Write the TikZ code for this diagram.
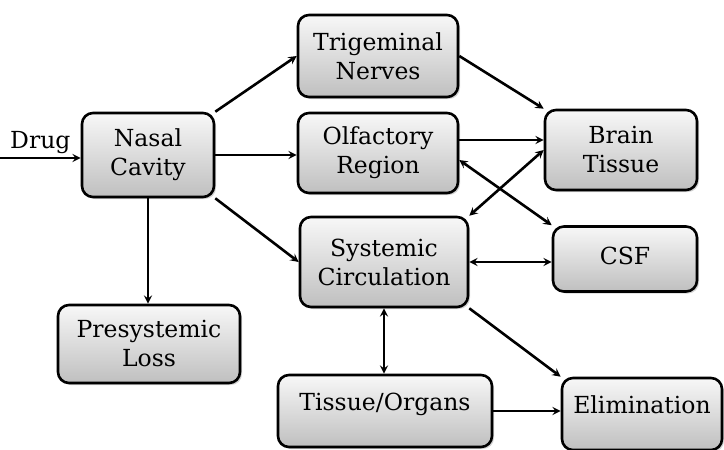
\documentclass[tikz,border=0pt]{standalone}
\usepackage{fontspec}
\setmainfont{DejaVu Serif}
\usetikzlibrary{shapes,arrows,positioning,shadows}

\begin{document}
\begin{tikzpicture}[
    x=1pt, y=-1pt,
    box/.style={rectangle, draw=black, line width=2.6pt, rounded corners=11pt, top color=gray!6, bottom color=gray!50, drop shadow={shadow xshift=2pt, shadow yshift=-2pt, opacity=0.35}, align=center, font=\fontsize{23.5}{29}\selectfont, inner sep=2pt},
    toptext/.style={text depth=18pt},
    arrow/.style={->,>=stealth,line width=2.6pt},
    both/.style={<->,>=stealth,line width=2.6pt}
]
\useasboundingbox (0,0) rectangle (724,450);

% Entry and first split
\node[box, minimum width=132pt, minimum height=84pt] (nasal) at (148,155) {Nasal\\Cavity};
\node[box, minimum width=182pt, minimum height=78pt] (pres) at (149,344) {Presystemic\\Loss};

% Routes
\node[box, minimum width=160pt, minimum height=82pt] (trig) at (378,56) {Trigeminal\\Nerves};
\node[box, minimum width=160pt, minimum height=80pt] (olf) at (378,153) {Olfactory\\Region};
\node[box, minimum width=168pt, minimum height=90pt] (sys) at (384,262) {Systemic\\Circulation};
\node[box, toptext, minimum width=214pt, minimum height=72pt] (tissue) at (385,411) {Tissue/Organs};

% Targets
\node[box, minimum width=152pt, minimum height=80pt] (brain) at (621,150) {Brain\\Tissue};
\node[box, text depth=6pt, minimum width=144pt, minimum height=65pt] (csf) at (625,259) {CSF};
\node[box, toptext, minimum width=160pt, minimum height=72pt] (elim) at (642,414) {Elimination};

% Drug input
\coordinate (drug) at (0,158);
\draw[arrow] (drug) -- (drug -| nasal.west) node[midway, above, font=\fontsize{23.5}{29}\selectfont] {Drug};

% Connections
\draw[arrow] (nasal.north east) -- (trig.west);
\draw[arrow] (nasal.east) -- (nasal.east -| olf.west);
\draw[arrow] (nasal.south east) -- (sys.west);
\draw[arrow] (nasal.south) -- (pres.north -| nasal.south);
\draw[arrow] (trig.east) -- (brain.north west);
\draw[arrow] ([yshift=13pt]olf.east) -- ([yshift=13pt]olf.east -| brain.west);
\draw[both] (sys.north east) -- (brain.west);
\draw[both] ([yshift=-7pt]olf.east) -- (csf.north west);
\draw[both] (sys.east) -- (sys.east -| csf.west);
\draw[both] (sys.south) -- (sys.south |- tissue.north);
\draw[arrow] (sys.south east) -- (elim.north west);
\draw[arrow] (tissue.east) -- (tissue.east -| elim.west);

\end{tikzpicture}
\end{document}
